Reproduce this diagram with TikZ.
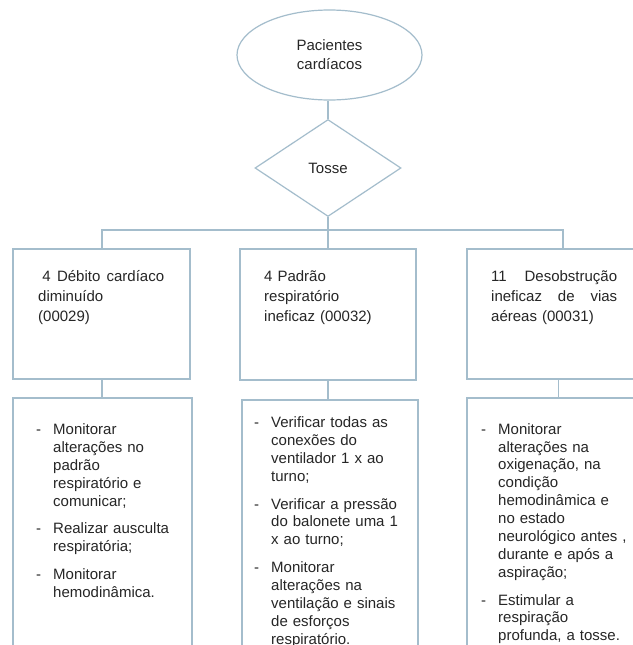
\documentclass[tikz,border=0pt]{standalone}
\usepackage{fontspec}
\setmainfont{Liberation Sans}
\usetikzlibrary{shapes.geometric,calc}
\definecolor{edge}{HTML}{A4BDCC}
\definecolor{ink}{HTML}{262626}
% one bullet of a care list: a hyphen, then text with a hanging indent
\newcommand{\dashitem}[1]{\par\hangindent=17pt\hangafter=1\noindent\makebox[17pt][l]{-}\strut#1\par}
\newcommand{\itemgap}{\vspace{9.8pt}}
% a justified line of fixed width
\newcommand{\spreadline}[1]{\makebox[126pt][s]{#1}}
\begin{document}
\begin{tikzpicture}[x=1pt,y=-1pt,
  link/.style={draw=edge,line width=1.2pt},
  ovalbox/.style={ellipse,draw=edge,line width=1.2pt,minimum width=185pt,minimum height=90pt,
    inner sep=0pt,align=center,text=ink,font=\fontsize{15}{19}\selectfont},
  choice/.style={diamond,draw=edge,line width=1.2pt,minimum width=146pt,minimum height=97pt,
    inner sep=0pt,text=ink,font=\fontsize{15}{18}\selectfont},
  box/.style={rectangle,draw=edge,line width=1.2pt,inner sep=0pt},
  headtext/.style={anchor=north west,inner sep=0pt,text width=150pt,text=ink,
    font=\fontsize{15}{19.6}\selectfont},
  listtext/.style={anchor=north west,inner sep=0pt,text width=170pt,text=ink,
    font=\fontsize{15}{17.9}\selectfont}]
\useasboundingbox (0,0) rectangle (632,645);
\fill[white] (0,0) rectangle (632,645);

% top of the chart
\node[ovalbox] (pac) at (329.5,55) {Pacientes\\cardíacos};
\node[choice] (tos) at (328,168) {Tosse};

% diagnosis boxes
\node[box,minimum width=177pt,minimum height=130pt] (d1) at (101.5,314) {};
\node[box,minimum width=176pt,minimum height=131pt] (d2) at (328,314.5) {};
\node[box,minimum width=176pt,minimum height=130pt] (d3) at (555,314) {};

% intervention boxes (run past the lower edge)
\node[box,minimum width=179pt,minimum height=302pt] (c1) at (102.5,549) {};
\node[box,minimum width=176pt,minimum height=300pt] (c2) at (330,550) {};
\node[box,minimum width=176pt,minimum height=302pt] (c3) at (555,549) {};

% connectors
\coordinate (hub) at (328,230);
\coordinate (jl) at (102,230);
\coordinate (jr) at (563,230);
\draw[link] (tos.north |- pac.south) -- (tos.north);
\draw[link] (tos.south) -- (hub);
\draw[link] (jl |- d1.north) -- (jl) -- (jr) -- (jr |- d3.north);
\draw[link] (hub) -- (d2.north);
\draw[link] (jl |- d1.south) -- (jl |- c1.north);
\draw[link] (d2.south) -- (d2.south |- c2.north);
\draw[link] ($(d3.south west)+(92,0)$) -- ($(c3.north west)+(92,0)$);

% diagnosis texts
\node[headtext] (h1) at (38,268)
  {\strut\spreadline{\hspace*{4.2pt}4\hfill Débito\hfill cardíaco}\newline diminuído\newline (00029)};
\node[headtext] (h2) at (264,268)
  {\strut 4 Padrão\newline respiratório\newline ineficaz (00032)};
\node[headtext] (h3) at (491,268)
  {\strut\spreadline{11\hfill Desobstrução}\newline\spreadline{ineficaz\hfill de\hfill vias}\newline aéreas (00031)};

% intervention lists
\node[listtext] (l1) at (36,416.5) {%
  \dashitem{Monitorar\newline alterações no\newline padrão\newline respiratório e\newline comunicar;}\itemgap
  \dashitem{Realizar ausculta\newline respiratória;}\itemgap
  \dashitem{Monitorar\newline hemodinâmica.}};
\node[listtext] (l2) at (254,409.5) {%
  \dashitem{Verificar todas as\newline conexões do\newline ventilador 1 x ao\newline turno;}\itemgap
  \dashitem{Verificar a pressão\newline do balonete uma 1\newline x ao turno;}\itemgap
  \dashitem{Monitorar\newline alterações na\newline ventilação e sinais\newline de esforços\newline respiratório.}};
\node[listtext] (l3) at (481,416) {%
  \dashitem{Monitorar\newline alterações na\newline oxigenação, na\newline condição\newline hemodinâmica e\newline no estado\newline neurológico antes ,\newline durante e após a\newline aspiração;}\itemgap
  \dashitem{Estimular a\newline respiração\newline profunda, a tosse.}};
\end{tikzpicture}
\end{document}
